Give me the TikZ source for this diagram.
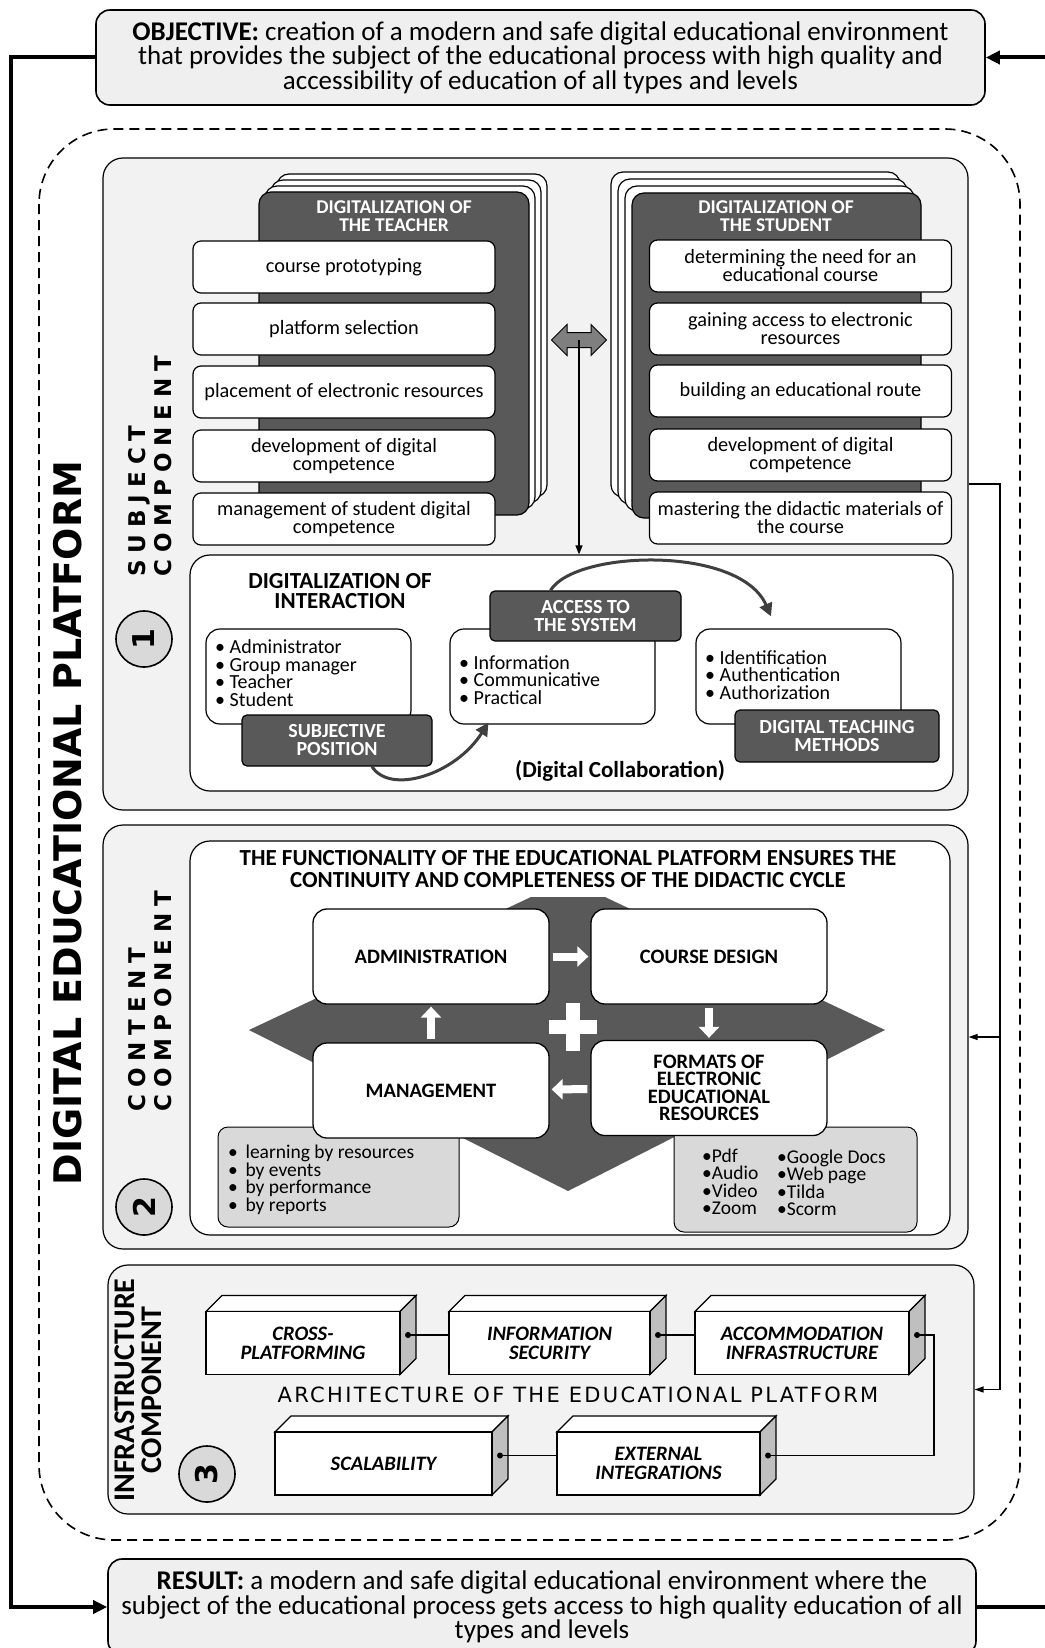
\documentclass[tikz,border=0pt]{standalone}
\usepackage{fontspec}
\setmainfont{Carlito}
\newfontfamily\dvsans{DejaVu Sans}
\newfontfamily\dvsanswide[LetterSpace=30]{DejaVu Sans}
\newfontfamily\dvsansarch[LetterSpace=11]{DejaVu Sans}
\usetikzlibrary{arrows.meta,shapes.arrows}

\definecolor{boxgray}{HTML}{EFEFEF}
\definecolor{panelgray}{HTML}{F2F2F2}
\definecolor{sheetdark}{HTML}{595959}
\definecolor{listgray}{HTML}{D9D9D9}
\definecolor{sidegray}{HTML}{BFBFBF}
\definecolor{arrowgray}{HTML}{7F7F7F}
\definecolor{curvegray}{HTML}{3F3F3F}

\tikzset{
    goal/.style={draw, line width=1.6pt, rounded corners=14pt, fill=boxgray, align=center,
        font=\fontsize{27}{23}\selectfont},
    panel/.style={draw, line width=1.2pt, rounded corners=20pt, fill=panelgray},
    whitepanel/.style={draw, line width=1.2pt, rounded corners=20pt, fill=white},
    item/.style={draw, fill=white, line width=1.2pt, rounded corners=8pt, minimum width=302pt,
        minimum height=52pt, align=center, inner sep=2pt, font=\fontsize{20.3}{18}\selectfont},
    sheet/.style={draw, fill=white, line width=1.2pt, rounded corners=12pt},
    darksheet/.style={draw, fill=sheetdark, line width=1.2pt, rounded corners=12pt},
    sheettitle/.style={text=white, align=center, font=\bfseries\fontsize{19.5}{18}\selectfont},
    rolebox/.style={draw, fill=white, line width=1.2pt, rounded corners=14pt, minimum width=205pt,
        minimum height=95pt},
    darkbox/.style={draw, fill=sheetdark, line width=1.2pt, rounded corners=5pt, text=white,
        align=center, font=\bfseries\fontsize{20}{18}\selectfont},
    listtext/.style={anchor=west, align=left, inner sep=0pt, font=\fontsize{20}{17.5}\selectfont},
    curvearrow/.style={draw=curvegray, line width=3pt, -{Triangle[length=13pt,width=13pt]}},
    cyclebox/.style={draw, fill=white, line width=1.3pt, rounded corners=14pt, minimum width=236pt,
        minimum height=95pt, align=center, font=\bfseries\fontsize{20.5}{17.5}\selectfont},
    whitearrow/.style={draw=white, line width=8pt, -{Triangle[length=11pt,width=20pt]}},
    graybox/.style={draw, fill=listgray, line width=1pt, rounded corners=10pt},
    num/.style={circle, draw, line width=1.6pt, fill=listgray, minimum size=56pt, inner sep=0pt,
        rotate=90, font=\dvsans\bfseries\fontsize{30}{30}\selectfont},
    sidelabel/.style={rotate=90, anchor=west, align=left,
        font=\dvsanswide\bfseries\fontsize{23}{26}\selectfont},
    block/.style={draw, fill=white, line width=1.3pt, align=center, inner sep=0pt,
        minimum height=63pt, font=\bfseries\itshape\fontsize{20.5}{19}\selectfont},
    feedback/.style={line width=4pt},
    link/.style={line width=1.3pt}
}

% stack of sheets: corners of the front sheet, x and y shift of the sheets behind
\NewDocumentCommand{\drawstack}{m m m m m m}{
    \foreach \k in {3,2,1}{
        \draw[sheet] ({#1+\k*(#5)},{#2-\k*(#6)}) rectangle ({#3+\k*(#5)},{#4-\k*(#6)});
    }
    \draw[darksheet] (#1,#2) rectangle (#3,#4);
}

% box drawn in perspective: name, centre x, centre y, width, label
\NewDocumentCommand{\drawblock}{m m m m m}{
    \def\blkx{#2}
    \def\blky{#3}
    \def\blkw{#4}
    \def\blkh{63}
    \def\blkd{16}

    % top and side faces
    \draw[line width=1.3pt, fill=white] ({\blkx-\blkw/2},{\blky-\blkh/2}) -- ++(\blkd,-\blkd) -- ++(\blkw,0) -- ++(-\blkd,\blkd) -- cycle;
    \draw[line width=1.3pt, fill=sidegray] ({\blkx+\blkw/2},{\blky-\blkh/2}) -- ++(\blkd,-\blkd) -- ++(0,\blkh) -- ++(-\blkd,\blkd) -- cycle;

    % front face and its dot
    \node[block, minimum width=#4pt] (#1) at (\blkx,\blky) {#5};
    \coordinate (#1dot) at ({\blkx+\blkw/2+\blkd/2},{\blky-\blkd/2});
    \fill (#1dot) circle [radius=3pt];
}

\begin{document}
\begin{tikzpicture}[x=1pt, y=-1pt]
    \useasboundingbox (0,0) rectangle (1044,1648);

    % Objective and result
    \node[goal, minimum width=889pt, minimum height=95pt] (obj) at (540.5,57.5) {\textbf{OBJECTIVE:} creation of a modern and safe digital educational environment\\that provides the subject of the educational process with high quality and\\accessibility of education of all types and levels};
    \node[goal, minimum width=868pt, minimum height=96pt] (res) at (542,1607) {\textbf{RESULT:} a modern and safe digital educational environment where the\\subject of the educational process gets access to high quality education of all\\types and levels};

    % Feedback loop round the platform
    \coordinate (lefttop) at (11,57.5);
    \coordinate (leftbot) at (11,1607);
    \coordinate (righttop) at (1050,57.5);
    \coordinate (rightbot) at (1050,1607);
    \draw[feedback, -{Triangle[length=14pt,width=13pt]}] (obj.west) -- (lefttop) -- (leftbot) -- (res.west);
    \draw[feedback] (res.east) -- (rightbot);
    \draw[feedback, -{Triangle[length=14pt,width=13pt]}] (righttop) -- (obj.east);

    % Platform frame
    \draw[dashed, dash pattern=on 10pt off 6pt, line width=1.6pt, rounded corners=75pt] (39,129) rectangle (1020,1540);
    \node[rotate=90, font=\dvsans\bfseries\fontsize{38}{38}\selectfont] (platform) at (68,823) {DIGITAL EDUCATIONAL PLATFORM};

    % Component 1: subject component
    \node[panel, minimum width=865pt, minimum height=652pt] (subj) at (535.5,484) {};
    \node[sidelabel] (subjlabel) at (150,580) {SUBJECT\\COMPONENT};
    \node[num] (n1) at (144,639) {1};

    \drawstack{259}{192}{529}{515}{6}{6}
    \node[sheettitle] (tchtitle) at (394,216) {DIGITALIZATION OF\\THE TEACHER};
    \node[item] (tch1) at (344,267) {course prototyping};
    \node[item] (tch2) at (344,329) {platform selection};
    \node[item] (tch3) at (344,392) {placement of electronic resources};
    \node[item] (tch4) at (344,456) {development of digital\\competence};
    \node[item] (tch5) at (344,519) {management of student digital\\competence};

    \drawstack{632}{193}{921}{518}{-7}{7}
    \node[sheettitle] (stdtitle) at (776,216) {DIGITALIZATION OF\\THE STUDENT};
    \node[item] (std1) at (800.5,266) {determining the need for an\\educational course};
    \node[item] (std2) at (800.5,329) {gaining access to electronic\\resources};
    \node[item] (std3) at (800.5,391) {building an educational route};
    \node[item] (std4) at (800.5,455) {development of digital\\competence};
    \node[item] (std5) at (800.5,518) {mastering the didactic materials of\\the course};

    \node[double arrow, draw, fill=arrowgray, line width=1pt, minimum height=55pt, inner sep=7pt,
        double arrow head extend=8pt] (dbl) at (579,340) {};

    % Interaction
    \node[whitepanel, minimum width=763pt, minimum height=236pt] (inter) at (571.5,673) {};
    \draw[link, -{Triangle[length=9pt,width=7pt]}] (dbl.center) -- (dbl.center |- inter.north);
    \node[font=\bfseries\fontsize{23}{20.5}\selectfont, align=center] (intertitle) at (340,591) {DIGITALIZATION OF\\INTERACTION};

    \node[rolebox] (roles) at (308.5,676.5) {};
    \node[listtext] (roleslist) at (215,673) {• Administrator\\• Group manager\\• Teacher\\• Student};
    \node[darkbox, minimum width=190pt, minimum height=51pt] (subjpos) at (337,740.5) {SUBJECTIVE\\POSITION};

    \node[rolebox] (forms) at (552.5,676.5) {};
    \node[listtext] (formslist) at (459,680) {• Information\\• Communicative\\• Practical};
    \node[darkbox, minimum width=191pt, minimum height=50pt] (access) at (585.5,616) {ACCESS TO\\THE SYSTEM};

    \node[rolebox] (auth) at (798.5,676.5) {};
    \node[listtext] (authlist) at (705,675) {• Identification\\• Authentication\\• Authorization};
    \node[darkbox, minimum width=204pt, minimum height=52pt] (methods) at (837,736) {DIGITAL TEACHING\\METHODS};

    \node[font=\bfseries\fontsize{23}{23}\selectfont] (collab) at (620,771) {(Digital Collaboration)};
    \draw[curvearrow] ([xshift=35pt]subjpos.south) .. controls (390,795) and (455,775) .. ([xshift=39pt,yshift=2pt]forms.south west);
    \draw[curvearrow] ([xshift=-35pt]access.north) .. controls (575,550) and (740,545) .. ([xshift=-27.5pt,yshift=12pt]auth.north);

    % Component 2: content component
    \node[panel, minimum width=865pt, minimum height=424pt] (content) at (535.5,1037) {};
    \node[sidelabel] (contlabel) at (150,1115) {CONTENT\\COMPONENT};
    \node[num] (n2) at (144,1207) {2};
    \node[whitepanel, minimum width=760pt, minimum height=394pt] (cycle) at (570,1038) {};
    \node[font=\bfseries\fontsize{23}{21.5}\selectfont, align=center] (cycletitle) at (568,869) {THE FUNCTIONALITY OF THE EDUCATIONAL PLATFORM ENSURES THE\\CONTINUITY AND COMPLETENESS OF THE DIDACTIC CYCLE};

    \fill[sheetdark] (249,1030) -- (531,897) -- (605,897) -- (885,1030) -- (568,1191) -- cycle;

    \node[graybox, minimum width=241pt, minimum height=100pt] (mgmtlist) at (338.5,1177) {};
    \node[listtext, font=\fontsize{19.5}{17.5}\selectfont] (mgmttext) at (228,1180) {•\, learning by resources\\•\, by events\\•\, by performance\\•\, by reports};
    \node[graybox, minimum width=243pt, minimum height=105pt] (fmtlist) at (795.5,1179.5) {};
    \node[listtext, font=\fontsize{19.5}{17.5}\selectfont] (fmtcol1) at (702,1182) {•Pdf\\•Audio\\•Video\\•Zoom};
    \node[listtext, font=\fontsize{19.5}{17.5}\selectfont] (fmtcol2) at (777,1183) {•Google Docs\\•Web page\\•Tilda\\•Scorm};

    \node[cyclebox] (admin) at (431,956.5) {ADMINISTRATION};
    \node[cyclebox] (design) at (709,956.5) {COURSE DESIGN};
    \node[cyclebox] (mgmt) at (431,1090.5) {MANAGEMENT};
    \node[cyclebox] (formats) at (709,1088) {FORMATS OF\\ELECTRONIC\\EDUCATIONAL\\RESOURCES};

    \draw[whitearrow, shorten <=3pt, shorten >=2pt] (admin) -- (design);
    \draw[whitearrow, shorten <=3pt, shorten >=2pt] (design) -- (formats);
    \draw[whitearrow, shorten <=3pt, shorten >=2pt] (formats) -- (mgmt);
    \draw[whitearrow, shorten <=3pt, shorten >=2pt] (mgmt) -- (admin);

    % Plus sign
    \fill[white] (566,1003) rectangle (580,1051);
    \fill[white] (549,1020) rectangle (597,1034);

    % Component 3: infrastructure component
    \node[panel, minimum width=866pt, minimum height=249pt] (infra) at (541,1389.5) {};
    \node[rotate=90, align=center, font=\bfseries\fontsize{30}{27}\selectfont] (infralabel) at (138,1390) {INFRASTRUCTURE\\COMPONENT};
    \node[num] (n3) at (207,1474) {3};

    \drawblock{blk1}{303}{1343}{194}{CROSS-\\PLATFORMING}
    \drawblock{blk2}{549.5}{1343}{201}{INFORMATION\\SECURITY}
    \drawblock{blk3}{802}{1343}{214}{ACCOMMODATION\\INFRASTRUCTURE}
    \drawblock{blk4}{383.5}{1463.5}{217}{SCALABILITY}
    \drawblock{blk5}{658.5}{1463.5}{203}{EXTERNAL\\INTEGRATIONS}

    \node[font=\dvsansarch\fontsize{21}{21}\selectfont] (archtitle) at (578,1395) {ARCHITECTURE OF THE EDUCATIONAL PLATFORM};

    \coordinate (turn) at (934,0);
    \draw[link] (blk1dot) -- (blk1dot -| blk2.west);
    \draw[link] (blk2dot) -- (blk2dot -| blk3.west);
    \draw[link] (blk3dot) -- (blk3dot -| turn) -- (blk5dot -| turn) -- (blk5dot);
    \draw[link] (blk4dot) -- (blk4dot -| blk5.west);

    % Links from the subject component to the others
    \coordinate (fbtop) at (1000,484);
    \coordinate (fbmid) at (1000,1037);
    \coordinate (fbbot) at (1000,1389.5);
    \draw[link] (subj.east) -- (fbtop) -- (fbbot);
    \draw[link, -{Triangle[length=9pt,width=6pt]}] (fbmid) -- (content.east);
    \draw[link, -{Triangle[length=9pt,width=6pt]}] (fbbot) -- (infra.east);

\end{tikzpicture}
\end{document}
